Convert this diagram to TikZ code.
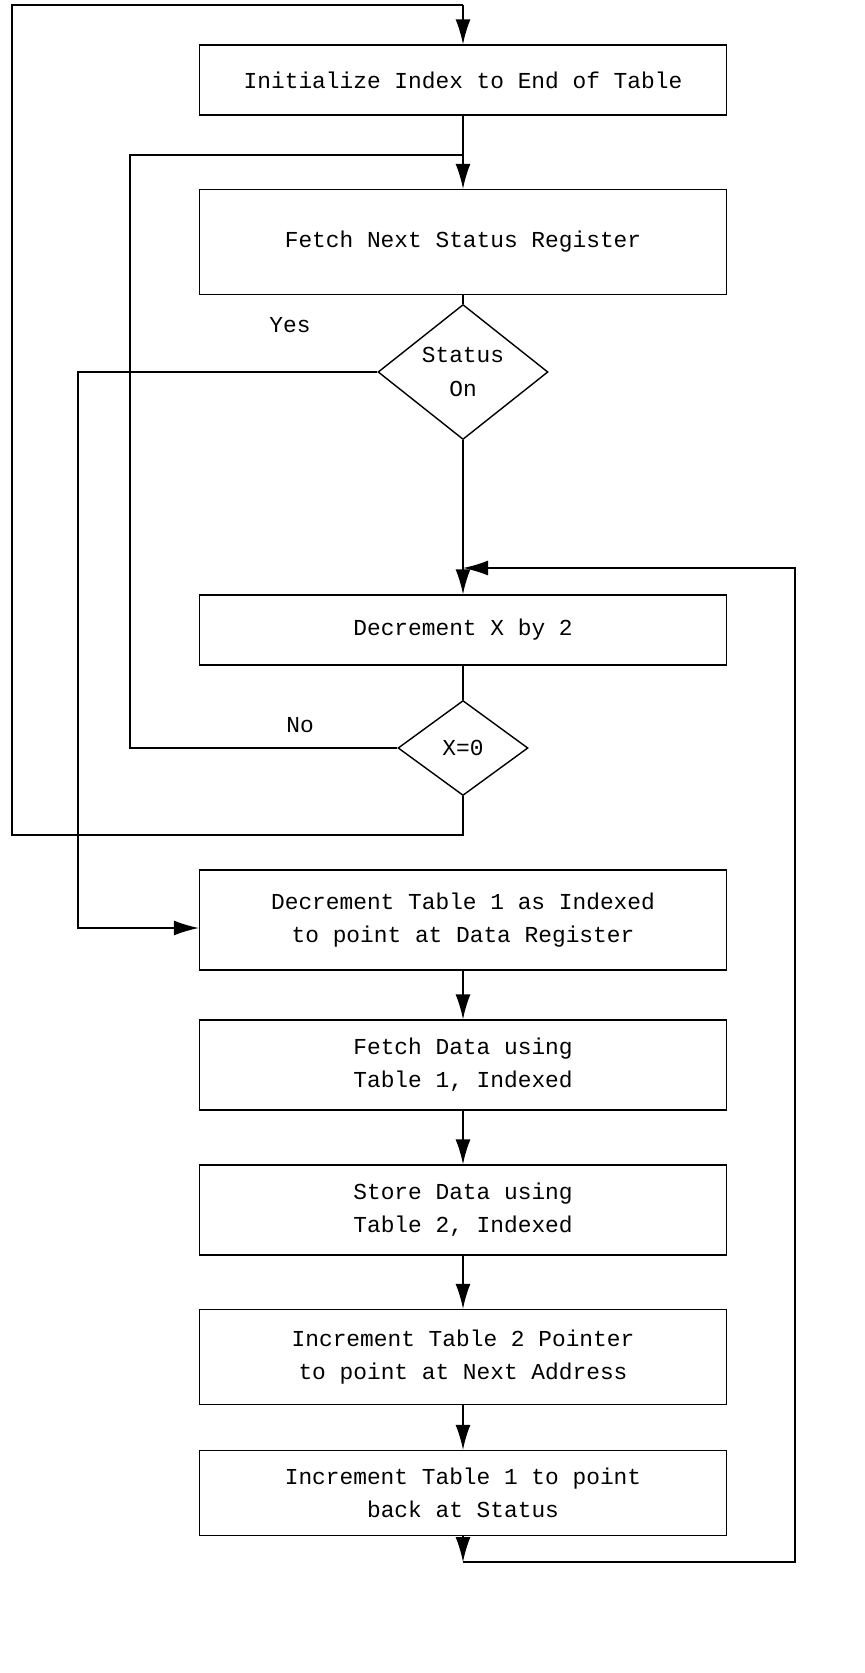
\documentclass[tikz,border=0pt]{standalone}
\usepackage{fontspec}
\setmainfont{Liberation Mono}
\usetikzlibrary{shapes.geometric, arrows.meta}
\tikzset{
	box/.style={draw, thick, rectangle, minimum width=10.54cm, align=center, inner sep=0pt},
	test/.style={draw, thick, diamond, inner sep=0pt, align=center},
	flow/.style={-{Latex[length=0.5cm, width=0.3cm]}, thick},
	line/.style={thick}
}
\begin{document}
\begin{tikzpicture}[x=0.02cm, y=-0.02cm, font=\fontsize{13}{19}\selectfont]
	\useasboundingbox (0,0) rectangle (865,1673);

	\node(init) at (463,80) [box, minimum height=1.4cm] {Initialize Index to End of Table};
	\node(fetch) at (463,242) [box, minimum height=2.1cm] {Fetch Next Status Register};
	\node(status) at (463,372) [test, minimum width=3.4cm, minimum height=2.7cm] {Status\\On};
	\node(decx) at (463,630) [box, minimum height=1.4cm] {Decrement X by 2};
	\node(zero) at (463,748) [test, minimum width=2.6cm, minimum height=1.9cm] {X=0};
	\node(dect) at (463,920) [box, minimum height=2cm] {Decrement Table 1 as Indexed\\to point at Data Register};
	\node(fdata) at (463,1065) [box, minimum height=1.8cm] {Fetch Data using\\Table 1, Indexed};
	\node(sdata) at (463,1210) [box, minimum height=1.8cm] {Store Data using\\Table 2, Indexed};
	\node(inc2) at (463,1357) [box, minimum height=1.9cm] {Increment Table 2 Pointer\\to point at Next Address};
	\node(inc1) at (463,1493) [box, minimum height=1.7cm] {Increment Table 1 to point\\back at Status};
	\node(yes) at (290,325) {Yes};
	\node(no) at (300,725) {No};

	\coordinate(topin) at (463,5);
	\coordinate(loopin) at (463,155);
	\coordinate(backin) at (463,568);
	\coordinate(zout) at (463,835);
	\coordinate(bend) at (463,1562);

	% main path
	\draw[line] (zero.south) -- (zout) -- (12,835) -- (12,5) -- (topin);
	\draw[flow] (topin) -- (init);
	\draw[flow] (init) -- (fetch);
	\draw[line] (fetch) -- (status);
	\draw[flow] (status) -- (decx);
	\draw[line] (decx) -- (zero);
	\draw[flow] (dect) -- (fdata);
	\draw[flow] (fdata) -- (sdata);
	\draw[flow] (sdata) -- (inc2);
	\draw[flow] (inc2) -- (inc1);

	% loops
	\draw[line] (zero.west) -- (130,748) -- (130,155) -- (loopin);
	\draw[flow] (status.west) -- (78,372) -- (78,928) -- (dect.west |- 78,928);
	\draw[flow] (inc1) -- (bend);
	\draw[flow] (bend) -- (795,1562) -- (795,568) -- (backin);
\end{tikzpicture}
\end{document}
